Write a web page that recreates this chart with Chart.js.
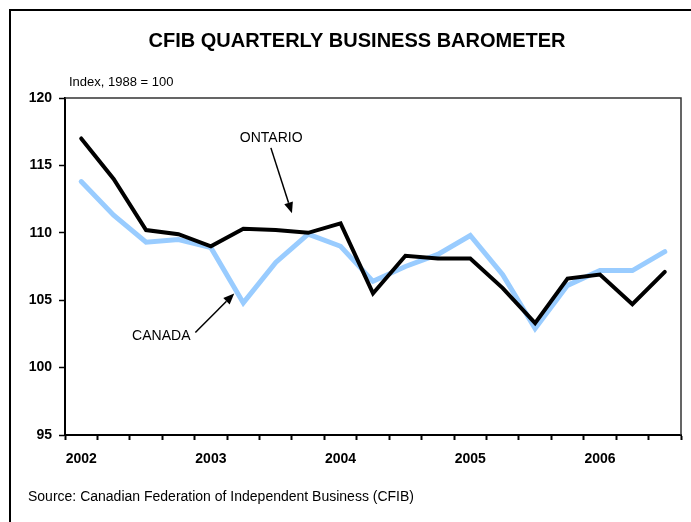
<!DOCTYPE html>
<html>
<head>
<meta charset="utf-8">
<script src="https://cdn.jsdelivr.net/npm/chart.js@4"></script>
<style>
  html,body{margin:0;padding:0;background:#fff;}
  #wrap{width:691px;height:522px;position:relative;}
</style>
</head>
<body>
<div id="wrap"><canvas id="chart" width="691" height="522"></canvas></div>
<script>
const quarters = ["2002 Q1","2002 Q2","2002 Q3","2002 Q4",
  "2003 Q1","2003 Q2","2003 Q3","2003 Q4",
  "2004 Q1","2004 Q2","2004 Q3","2004 Q4",
  "2005 Q1","2005 Q2","2005 Q3","2005 Q4",
  "2006 Q1","2006 Q2","2006 Q3"];
const yearLabels = ["2002","","","","2003","","","","2004","","","","2005","","","","2006","",""];
const ontario = [117.0,114.0,110.2,109.9,109.0,110.3,110.2,110.0,110.7,105.5,108.3,108.1,108.1,105.9,103.3,106.6,106.9,104.7,107.1];
const canada  = [113.8,111.3,109.3,109.5,108.9,104.8,107.8,109.9,109.0,106.4,107.5,108.4,109.8,106.9,102.9,106.1,107.2,107.2,108.6];
const yTicks = [95,100,105,110,115,120];

const FONT = "'Liberation Sans', Arial, sans-serif";

// callouts: text position and arrow, in (category index, index value)
const callouts = [
  {text:"ONTARIO", at:[5.86,117.0], from:[5.85,116.3], to:[6.5,111.45]},
  {text:"CANADA",  at:[2.47,102.3], from:[3.52,102.6], to:[4.72,105.5]}
];

const decor = {
  id:"decor",
  beforeDraw(c){
    const g=c.ctx;
    g.save();
    g.fillStyle="#fff"; g.fillRect(0,0,c.width,c.height);
    g.strokeStyle="#000"; g.lineWidth=2;
    g.strokeRect(10,10,720,560);
    g.fillStyle="#000"; g.textAlign="center"; g.textBaseline="middle";
    g.font="bold 20px "+FONT;
    g.fillText("CFIB QUARTERLY BUSINESS BAROMETER",357,41);
    g.textAlign="left";
    g.font="13px "+FONT;
    g.fillText("Index, 1988 = 100",69,82);
    g.font="14px "+FONT;
    g.fillText("Source: Canadian Federation of Independent Business (CFIB)",28,497);
    g.restore();
  },
  afterDatasetsDraw(c){
    const g=c.ctx, a=c.chartArea, xs=c.scales.x, ys=c.scales.y;
    g.save();
    // plot frame top/right
    g.strokeStyle="#333"; g.lineWidth=1.5;
    g.beginPath(); g.moveTo(a.left,a.top); g.lineTo(a.right,a.top); g.lineTo(a.right,a.bottom); g.stroke();
    g.font="14px "+FONT; g.fillStyle="#000"; g.textAlign="center"; g.textBaseline="middle";
    callouts.forEach(o=>{
      g.fillText(o.text, xs.getPixelForValue(o.at[0]), ys.getPixelForValue(o.at[1]));
      const x1=xs.getPixelForValue(o.from[0]), y1=ys.getPixelForValue(o.from[1]);
      const x2=xs.getPixelForValue(o.to[0]), y2=ys.getPixelForValue(o.to[1]);
      const ang=Math.atan2(y2-y1,x2-x1), hl=11, hw=4.5;
      const bx=x2-hl*Math.cos(ang), by=y2-hl*Math.sin(ang);
      g.strokeStyle="#000"; g.lineWidth=1.5;
      g.beginPath(); g.moveTo(x1,y1); g.lineTo(bx,by); g.stroke();
      g.beginPath(); g.moveTo(x2,y2);
      g.lineTo(bx+hw*Math.sin(ang), by-hw*Math.cos(ang));
      g.lineTo(bx-hw*Math.sin(ang), by+hw*Math.cos(ang));
      g.closePath(); g.fill();
    });
    g.restore();
  }
};

new Chart(document.getElementById("chart"),{
  type:"line",
  data:{labels:quarters,datasets:[
    {label:"Ontario",data:ontario,borderColor:"#000",borderWidth:4,pointRadius:0,tension:0,order:0,borderCapStyle:"round"},
    {label:"Canada",data:canada,borderColor:"#99ccff",borderWidth:5,pointRadius:0,tension:0,order:1,borderCapStyle:"round"}
  ]},
  options:{
    responsive:false,animation:false,
    layout:{padding:{left:0,top:98,right:10,bottom:0}},
    plugins:{legend:{display:false},tooltip:{enabled:false},title:{display:false}},
    scales:{
      x:{offset:true,
        grid:{offset:true,drawOnChartArea:false,tickLength:5,tickColor:"#000",tickWidth:2},
        border:{color:"#000",width:2},
        ticks:{autoSkip:false,maxRotation:0,padding:11,color:"#000",font:{family:FONT,size:14,weight:"bold"},
          callback:(v,i)=>yearLabels[i]},
        afterFit:s=>{s.height=87;}},
      y:{min:95,max:120,
        afterBuildTicks:s=>{s.ticks=yTicks.map(v=>({value:v}));},
        grid:{drawOnChartArea:false,tickLength:6,tickColor:"#000",tickWidth:1.5},
        border:{color:"#000",width:2},
        ticks:{padding:7,color:"#000",font:{family:FONT,size:14,weight:"bold"}},
        afterFit:s=>{s.width=65;}}
    }
  },
  plugins:[decor]
});
</script>
</body>
</html>
